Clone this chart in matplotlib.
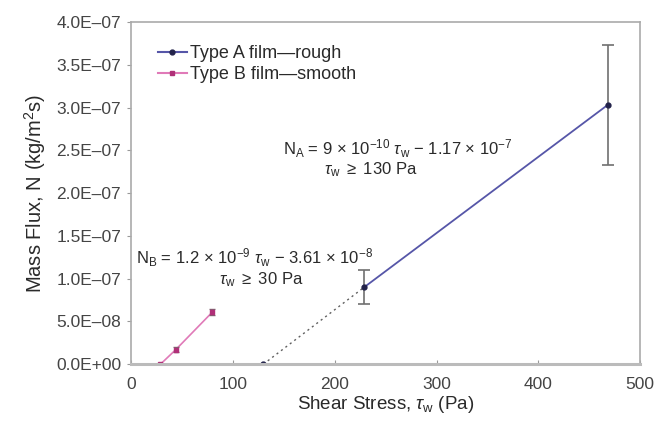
import numpy as np
import matplotlib.pyplot as plt
from matplotlib.ticker import FuncFormatter

plt.rcParams['font.family'] = ['Liberation Sans', 'DejaVu Sans']
plt.rcParams['mathtext.fontset'] = 'custom'
plt.rcParams['mathtext.rm'] = 'Liberation Sans'
plt.rcParams['mathtext.it'] = 'Liberation Sans:italic'

# Type A film (rough)
stress_a = [130, 229, 468]
flux_a = [0.0, 9.0e-08, 3.03e-07]
err_a = [0.0, 2.0e-08, 7.0e-08]

# Type B film (smooth)
stress_b = [29, 44, 80]
flux_b = [0.0, 1.7e-08, 6.1e-08]
err_b = [0.0, 3.0e-09, 4.0e-09]

col_a_line = "#5656a8"
col_a_mark = "#22224a"
col_b_line = "#e07ab8"
col_b_mark = "#b03078"
txt = "#2a2a2a"

fig = plt.figure(figsize=(6.58, 4.23), dpi=100)
ax = fig.add_axes([0.199, 0.139, 0.774, 0.809])

# Type A: dotted extrapolation to zero, then solid fit
ax.plot(stress_a[:2], flux_a[:2], linestyle=(0, (1.5, 2.5)), color="#606060", lw=1)
ax.plot(stress_a[1:], flux_a[1:], color=col_a_line, lw=1.3)
ax.errorbar(stress_a, flux_a, yerr=err_a, fmt="none", ecolor="#707070",
            elinewidth=1.2, capsize=4, capthick=1.2)
ax.plot(stress_a, flux_a, "o", color=col_a_mark, ms=3.5)

# Type B
ax.plot(stress_b, flux_b, color=col_b_line, lw=1.2)
ax.errorbar(stress_b, flux_b, yerr=err_b, fmt="none", ecolor="#806070",
            elinewidth=1, capsize=2.5, capthick=1)
ax.plot(stress_b, flux_b, "s", color=col_b_mark, ms=3.5)

# legend handles
ax.plot([], [], "o-", color=col_a_line, mfc=col_a_mark, mec=col_a_mark, ms=3.5,
        label="Type A film\u2014rough")
ax.plot([], [], "s-", color=col_b_line, mfc=col_b_mark, mec=col_b_mark, ms=3.5,
        label="Type B film\u2014smooth")
ax.legend(loc="upper left", bbox_to_anchor=(0.035, 0.958), frameon=False,
          borderpad=0, fontsize=13, handlelength=1.6, handletextpad=0.2,
          labelspacing=0.2, labelcolor=txt)

ax.text(262, 2.52e-07,
        r"N$_\mathrm{A}$ = 9 $\times$ 10$^{-10}$ $\tau_\mathrm{w}$ $-$ 1.17 $\times$ 10$^{-7}$",
        ha="center", va="center", fontsize=12, color=txt)
ax.text(236, 2.27e-07, r"$\tau_\mathrm{w}$ $\geq$ 130 Pa",
        ha="center", va="center", fontsize=12, color=txt)
ax.text(121, 1.245e-07,
        r"N$_\mathrm{B}$ = 1.2 $\times$ 10$^{-9}$ $\tau_\mathrm{w}$ $-$ 3.61 $\times$ 10$^{-8}$",
        ha="center", va="center", fontsize=12, color=txt)
ax.text(128, 0.99e-07, r"$\tau_\mathrm{w}$ $\geq$ 30 Pa",
        ha="center", va="center", fontsize=12, color=txt)

ax.set_xlim(0, 500)
ax.set_ylim(0, 4.0e-07)
ax.set_xticks([0, 100, 200, 300, 400, 500])
ax.set_yticks(np.arange(0, 4.01e-07, 5e-08))
ax.yaxis.set_major_formatter(FuncFormatter(lambda v, p: f"{v:.1E}".replace("-", "\u2013")))
ax.tick_params(axis="both", labelsize=12.5, colors="#999999", labelcolor="#444444",
               length=3, width=0.8)
ax.tick_params(axis="y", pad=4)
ax.tick_params(axis="x", direction="in", length=3, pad=9)

for s in ax.spines.values():
    s.set_color("#aaaaaa")
    s.set_linewidth(1.2)
ax.spines["bottom"].set_linewidth(2.2)
ax.spines["bottom"].set_color("#bbbbbb")

ax.set_xlabel(r"Shear Stress, $\tau_\mathrm{w}$ (Pa)", fontsize=13.5, color=txt, labelpad=2)
ax.set_ylabel("Mass Flux, N (kg/m$^2$s)", fontsize=14.5, color=txt, labelpad=6)

fig.savefig("out.png", dpi=100)
